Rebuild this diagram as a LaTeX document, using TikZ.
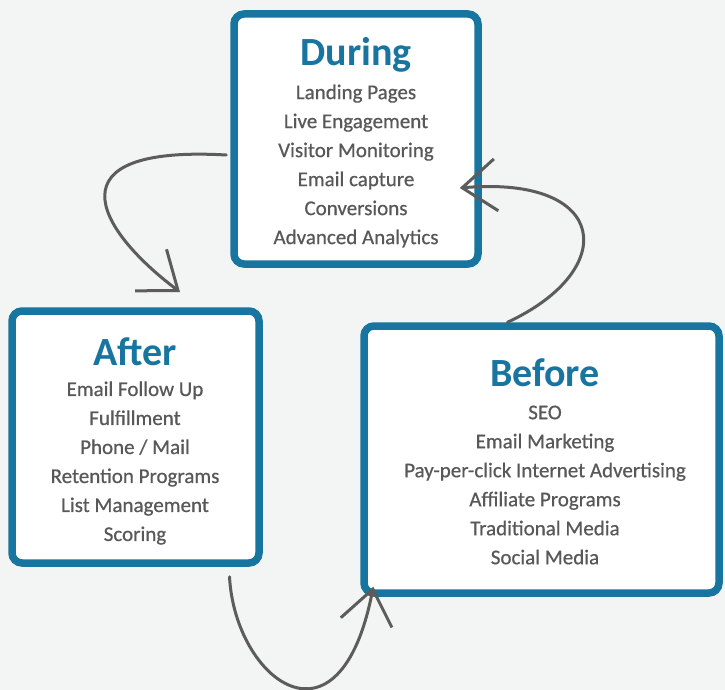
\documentclass[tikz,border=0pt]{standalone}
\usepackage{fontspec}
\setmainfont{Carlito}
\newfontfamily\itemfont{Carlito}[FakeBold=0.6]
\usetikzlibrary{arrows.meta,calc}
\definecolor{boxblue}{RGB}{24,117,160}
\definecolor{txtgray}{RGB}{88,88,88}
\definecolor{arrowgray}{RGB}{92,92,92}
\definecolor{bgcol}{RGB}{243,244,244}
\begin{document}
\begin{tikzpicture}[x=1pt,y=-1pt,
 box/.style={draw=boxblue, line width=7.5pt, fill=white, rounded corners=10pt, inner sep=0pt},
 titletext/.style={text=boxblue, font=\fontsize{40}{40}\selectfont\bfseries, inner sep=0pt},
 items/.style={text=txtgray, align=center, font=\itemfont\fontsize{21}{29}\selectfont, inner sep=0pt},
 flow/.style={draw=arrowgray, line width=3pt, line cap=round, line join=round, -{Straight Barb[length=34pt,width=52pt]}}]
\fill[bgcol] (0,0) rectangle (725,690);
\useasboundingbox (0,0) rectangle (725,690);

\node[box, minimum width=244pt, minimum height=250pt] (during) at (356,139) {};
\node[titletext] (duringtitle) at (356,55) {During};
\node[items] (duringitems) at (356,166) {Landing Pages\\Live Engagement\\Visitor Monitoring\\Email capture\\Conversions\\Advanced Analytics};

\node[box, minimum width=247pt, minimum height=252pt] (after) at (135.5,437) {};
\node[titletext] (aftertitle) at (135,352) {After};
\node[items] (afteritems) at (135,463) {Email Follow Up\\Fulfillment\\Phone / Mail\\Retention Programs\\List Management\\Scoring};

\node[box, minimum width=355pt, minimum height=267pt] (before) at (541.5,459.5) {};
\node[titletext] (beforetitle) at (545,373) {Before};
\node[items] (beforeitems) at (545,485) {SEO\\Email Marketing\\Pay-per-click Internet Advertising\\Affiliate Programs\\Traditional Media\\Social Media};

\coordinate (tip1) at (180,292);
\draw[flow] ($(during.west)+(-4,16)$) .. controls (50,145) and (95,228) .. (tip1);
\draw[flow] ($(after.south)+(94,10)$) .. controls (235,680) and (340,760) .. ($(before.south west)+(13,-10)$);
\draw[flow] ($(before.north)+(-34,0)$) .. controls (620,270) and (610,175) .. ($(during.east)+(-22,49)$);
\end{tikzpicture}
\end{document}
